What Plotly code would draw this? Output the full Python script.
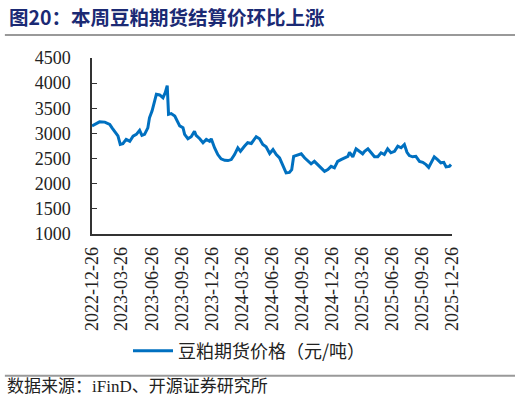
import plotly.graph_objects as go

# 豆粕期货结算价 (元/吨)
dates = [
    '2022-12-26', '2023-01-03', '2023-01-18', '2023-02-03', '2023-02-18', '2023-02-25',
    '2023-03-05', '2023-03-15', '2023-03-22', '2023-03-30', '2023-04-09', '2023-04-20',
    '2023-04-30', '2023-05-10', '2023-05-20', '2023-05-27', '2023-06-04', '2023-06-14',
    '2023-06-19', '2023-06-27', '2023-07-05', '2023-07-10', '2023-07-20', '2023-07-30',
    '2023-08-06', '2023-08-12', '2023-08-16', '2023-08-24', '2023-09-04', '2023-09-11',
    '2023-09-19', '2023-09-29', '2023-10-04', '2023-10-14', '2023-10-24', '2023-11-03',
    '2023-11-08', '2023-11-19', '2023-11-29', '2023-12-09', '2023-12-19', '2023-12-24',
    '2024-01-03', '2024-01-13', '2024-01-23', '2024-02-03', '2024-02-13', '2024-02-23',
    '2024-03-04', '2024-03-14', '2024-03-22', '2024-04-03', '2024-04-13', '2024-04-24',
    '2024-05-09', '2024-05-19', '2024-05-29', '2024-06-08', '2024-06-19', '2024-06-29',
    '2024-07-09', '2024-07-19', '2024-07-29', '2024-08-08', '2024-08-18', '2024-08-25',
    '2024-08-31', '2024-09-13', '2024-09-23', '2024-10-03', '2024-10-13', '2024-10-23',
    '2024-11-02', '2024-11-12', '2024-11-22', '2024-12-03', '2024-12-13', '2024-12-23',
    '2025-01-02', '2025-01-12', '2025-01-22', '2025-02-02', '2025-02-12', '2025-02-17',
    '2025-02-27', '2025-03-09', '2025-03-19', '2025-03-29', '2025-04-04', '2025-04-14',
    '2025-04-24', '2025-05-04', '2025-05-14', '2025-05-24', '2025-06-03', '2025-06-13',
    '2025-06-23', '2025-07-04', '2025-07-14', '2025-07-24', '2025-08-03', '2025-08-11',
    '2025-08-18', '2025-08-28', '2025-09-07', '2025-09-18', '2025-09-28', '2025-10-08',
    '2025-10-16', '2025-10-25', '2025-11-02', '2025-11-12', '2025-11-22', '2025-12-01',
    '2025-12-08', '2025-12-18', '2025-12-23',
]
prices = [
    3150, 3180, 3230, 3225, 3180, 3110,
    3030, 2950, 2780, 2795, 2880, 2845,
    2945, 2980, 3060, 2960, 2980, 3110,
    3310, 3450, 3650, 3780, 3765, 3710,
    3810, 3950, 3380, 3395, 3345, 3245,
    3150, 3115, 2980, 2895, 2935, 3045,
    2960, 2895, 2815, 2880, 2845, 2895,
    2715, 2580, 2495, 2465, 2460, 2480,
    2580, 2715, 2645, 2745, 2815, 2800,
    2935, 2895, 2780, 2735, 2600, 2680,
    2580, 2515, 2345, 2215, 2225, 2280,
    2545, 2580, 2595, 2515, 2445, 2395,
    2445, 2380, 2315, 2245, 2280, 2345,
    2315, 2445, 2480, 2515, 2545, 2625,
    2535, 2695, 2645, 2595, 2645, 2695,
    2615, 2535, 2535, 2615, 2580, 2695,
    2615, 2645, 2745, 2715, 2780, 2625,
    2560, 2535, 2545, 2445, 2425, 2380,
    2325, 2425, 2535, 2480, 2415, 2425,
    2335, 2345, 2380,
]
tick_dates = [
    '2022-12-26', '2023-03-26', '2023-06-26', '2023-09-26', '2023-12-26',
    '2024-03-26', '2024-06-26', '2024-09-26', '2024-12-26', '2025-03-26',
    '2025-06-26', '2025-09-26', '2025-12-26',
]

serif = 'Liberation Serif, Noto Sans CJK SC'
cjk = 'Noto Sans CJK SC'

fig = go.Figure(go.Scatter(
    x=dates, y=prices, mode='lines', name='豆粕期货价格（元/吨）',
    line=dict(color='#0070C0', width=3),
))

fig.update_layout(
    width=520, height=402,
    margin=dict(l=92, r=68, t=58, b=168),
    paper_bgcolor='white', plot_bgcolor='white',
    showlegend=True,
    legend=dict(orientation='h', x=0.1, y=-0.665, xanchor='left', yanchor='middle',
                font=dict(family=cjk, size=18, color='#222222'), itemwidth=40),
    xaxis=dict(
        type='date', range=['2022-12-26', '2025-12-26'],
        tickvals=tick_dates, ticktext=tick_dates, tickangle=-90,
        tickfont=dict(family=serif, size=18, color='#222222'),
        showgrid=False, zeroline=False, ticks='',
        showline=True, linecolor='#333333', linewidth=1.5,
        ticklabelstandoff=4,
    ),
    yaxis=dict(
        range=[1000, 4500], dtick=500, tickformat='d',
        tickfont=dict(family=serif, size=18, color='#222222'),
        showgrid=False, zeroline=False,
        ticks='inside', ticklen=5, tickcolor='#333333',
        showline=True, linecolor='#333333', linewidth=1.5,
        ticklabelstandoff=16,
    ),
)

fig.add_annotation(
    text='<b>图20：本周豆粕期货结算价环比上涨</b>', xref='paper', yref='paper',
    x=-0.236, y=1.236, xanchor='left', yanchor='middle', showarrow=False,
    font=dict(family=cjk, size=19.5, color='#1B2A74'),
)
fig.add_annotation(
    text='数据来源：iFinD、开源证券研究所', xref='paper', yref='paper',
    x=-0.242, y=-0.869, xanchor='left', yanchor='middle', showarrow=False,
    font=dict(family=serif, size=17, color='#222222'),
)
fig.add_shape(type='line', xref='paper', yref='paper', x0=-0.242, x1=1.175,
              y0=1.131, y1=1.131, line=dict(color='#999999', width=2))
fig.add_shape(type='line', xref='paper', yref='paper', x0=-0.242, x1=1.175,
              y0=-0.805, y1=-0.805, line=dict(color='#999999', width=2))

# drop the browser's default 8px body margin so the figure fills the window
fig.write_html('out.html', config={'displayModeBar': False},
               post_script="document.body.style.margin='0';")
